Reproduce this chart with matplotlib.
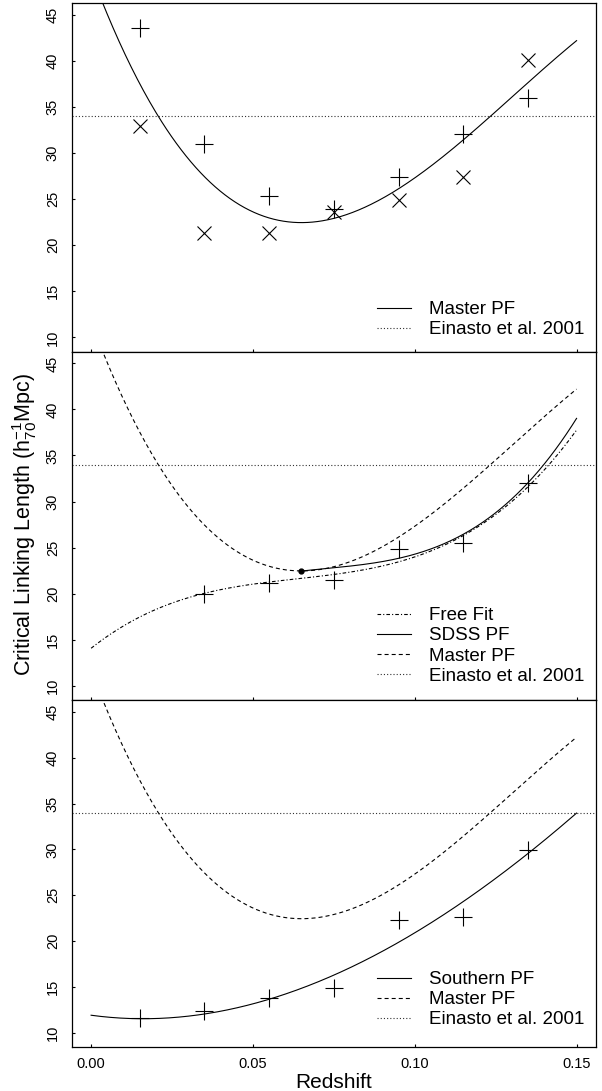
import numpy as np
import matplotlib
matplotlib.use('Agg')
from matplotlib import pyplot as plt

plt.rcParams['font.family'] = ['Liberation Sans', 'DejaVu Sans']
plt.rcParams['mathtext.fontset'] = 'custom'
plt.rcParams['mathtext.rm'] = 'Liberation Sans'
plt.rcParams['mathtext.it'] = 'Liberation Sans:italic'
plt.rcParams['lines.scale_dashes'] = False

# redshift bins
z_bins = [0.015, 0.035, 0.055, 0.075, 0.095, 0.115, 0.135]

# top panel: two samples
top_plus = [43.6, 31.0, 25.4, 23.9, 27.4, 32.1, 36.0]
top_cross = [32.9, 21.3, 21.3, 23.6, 24.9, 27.4, 40.1]

# middle panel: SDSS (no point in first bin)
sdss_z = [0.035, 0.055, 0.075, 0.095, 0.115, 0.135]
sdss_plus = [20.0, 21.2, 21.5, 24.8, 25.5, 32.0]

# bottom panel: southern sample
south_plus = [11.6, 12.4, 13.8, 14.9, 22.3, 22.6, 29.9]

# polynomial fits, highest order first
master_pf = [-24490.0, 9590.0, -936.2, 49.52]
sdss_pf = [29013.0, -6283.5, 487.8, 9.32]
sdss_pf_start = 0.065
free_fit = [19770.0, -3767.0, 278.2, 14.06]
southern_pf = [-1576.0, 1534.5, -48.0, 11.95]

einasto = 34.0

x_ticks = [0.0, 0.05, 0.10, 0.15]
y_ticks = [10, 15, 20, 25, 30, 35, 40, 45]

# line styles (points)
DASH = (0, (2.9, 2.2))
DOT = (0, (0.8, 1.5))
DASHDOT = (0, (2.6, 1.5, 0.8, 1.5))
LW = 0.8

fig = plt.figure(figsize=(6.02, 10.91), dpi=100)
left, width = 0.1191, 0.8709
bottoms = [0.6776, 0.3584, 0.0399]
heights = [0.3194, 0.3192, 0.3185]
axes = [fig.add_axes([left, b, width, h]) for b, h in zip(bottoms, heights)]

zz = np.linspace(0.0, 0.15, 400)
zz_sdss = np.linspace(sdss_pf_start, 0.15, 300)


def style_axis(ax, bottom_labels):
    ax.set_xlim(-0.006, 0.156)
    ax.set_ylim(8.44, 46.27)
    ax.set_xticks(x_ticks)
    ax.set_yticks(y_ticks)
    ax.set_xticklabels(['%.2f' % t for t in x_ticks] if bottom_labels else [])
    ax.tick_params(direction='in', length=2.2, width=0.8, labelsize=10.5)
    ax.tick_params(axis='y', labelrotation=90, pad=8.5)
    ax.tick_params(axis='x', pad=7)
    for lbl in ax.get_yticklabels():
        lbl.set_va('center')
    for s in ax.spines.values():
        s.set_linewidth(0.9)


def add_legend(ax, y0):
    ax.legend(loc='lower right', bbox_to_anchor=(0.977, y0), frameon=False,
              fontsize=13.5, handlelength=1.8, handletextpad=0.95,
              labelspacing=0.16, borderpad=0, borderaxespad=0)


# --- top panel
ax = axes[0]
ax.plot(zz, np.polyval(master_pf, zz), color='black', lw=LW, label='Master PF')
ax.axhline(einasto, color='#333333', lw=LW, ls=DOT, label='Einasto et al. 2001')
ax.plot(z_bins, top_plus, ls='none', marker='+', ms=13, mew=0.8, color='black')
ax.plot(z_bins, top_cross, ls='none', marker='x', ms=10, mew=0.8, color='black')
style_axis(ax, False)
add_legend(ax, 0.038)

# --- middle panel
ax = axes[1]
ax.plot(zz, np.polyval(free_fit, zz), color='black', lw=LW, ls=DASHDOT, label='Free Fit')
ax.plot(zz_sdss, np.polyval(sdss_pf, zz_sdss), color='black', lw=LW, label='SDSS PF')
ax.plot(zz, np.polyval(master_pf, zz), color='black', lw=LW, ls=DASH, label='Master PF')
ax.axhline(einasto, color='#333333', lw=LW, ls=DOT, label='Einasto et al. 2001')
ax.plot([sdss_pf_start], [np.polyval(sdss_pf, sdss_pf_start)], ls='none',
        marker='o', ms=3.5, color='black')
ax.plot(sdss_z, sdss_plus, ls='none', marker='+', ms=13, mew=0.8, color='black')
style_axis(ax, False)
add_legend(ax, 0.044)

# --- bottom panel
ax = axes[2]
ax.plot(zz, np.polyval(southern_pf, zz), color='black', lw=LW, label='Southern PF')
ax.plot(zz, np.polyval(master_pf, zz), color='black', lw=LW, ls=DASH, label='Master PF')
ax.axhline(einasto, color='#333333', lw=LW, ls=DOT, label='Einasto et al. 2001')
ax.plot(z_bins, south_plus, ls='none', marker='+', ms=13, mew=0.8, color='black')
style_axis(ax, True)
add_legend(ax, 0.055)

fig.text(0.5548, 1 - 1082 / 1091, 'Redshift', ha='center', va='center', fontsize=15)
fig.text(25 / 602, 1 - 525 / 1091, r'Critical Linking Length (h$_{70}^{-1}$Mpc)',
         ha='center', va='center', rotation=90, fontsize=15.5)

fig.savefig('out.png', dpi=100)
